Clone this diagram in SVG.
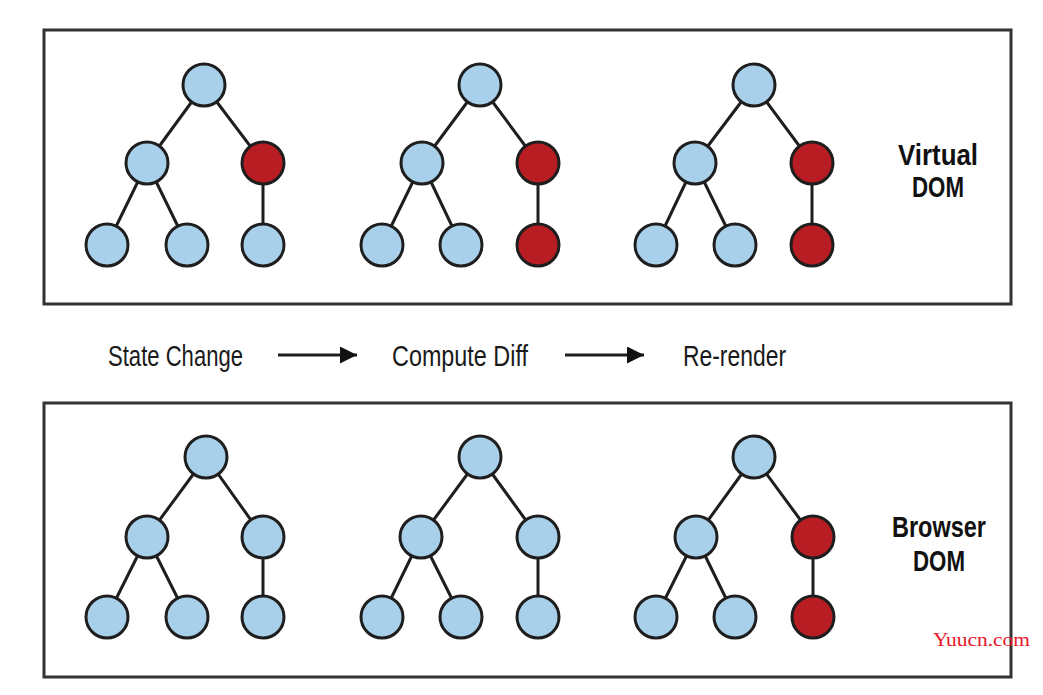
<svg xmlns="http://www.w3.org/2000/svg" width="1043" height="695" viewBox="0 0 1043 695">
<defs>
<style>
.panel{fill:#fff;stroke:#333;stroke-width:3}
.edge{stroke:#1e1e1e;stroke-width:3;fill:none}
.b{fill:#a9d0ea;stroke:#1e1e1e;stroke-width:3}
.r{fill:#b91d24;stroke:#1e1e1e;stroke-width:3}
.lbl{font-family:"Liberation Sans",Arial,sans-serif;font-size:29px;fill:#1a1a1a}
.ttl{font-family:"Liberation Sans",Arial,sans-serif;font-size:30px;font-weight:bold;fill:#111;text-anchor:middle}
.wm{font-family:"Liberation Serif","Times New Roman",serif;font-size:19px;fill:#e8192c}
</style>
<marker id="ah" viewBox="0 0 10 10" refX="10" refY="5" markerWidth="18" markerHeight="17" markerUnits="userSpaceOnUse" orient="auto">
<path d="M0,0 L10,5 L0,10 Z" fill="#111"/>
</marker>
</defs>
<rect width="1043" height="695" fill="#fff"/>
<g id="virtual-dom-panel">
<rect class="panel" x="44" y="30" width="967" height="274"/>
<text class="ttl" x="938" y="165" textLength="80" lengthAdjust="spacingAndGlyphs">Virtual</text>
<text class="ttl" x="938" y="197" textLength="52" lengthAdjust="spacingAndGlyphs">DOM</text>
</g>
<g id="browser-dom-panel">
<rect class="panel" x="44" y="403" width="967" height="274"/>
<text class="ttl" x="939" y="537" textLength="94" lengthAdjust="spacingAndGlyphs">Browser</text>
<text class="ttl" x="939" y="571" textLength="52" lengthAdjust="spacingAndGlyphs">DOM</text>
</g>
<g id="connectors">
<path class="edge" d="M204,85 L147,163 M204,85 L263,163 M147,163 L107,245 M147,163 L187,245 M263,163 L263,245"/>
<path class="edge" d="M480,85 L422,163 M480,85 L538,163 M422,163 L382,245 M422,163 L461,245 M538,163 L538,245"/>
<path class="edge" d="M754,85 L695,163 M754,85 L812,163 M695,163 L656,245 M695,163 L735,245 M812,163 L812,245"/>
<path class="edge" d="M206,457 L147,537 M206,457 L263,537 M147,537 L107,617 M147,537 L187,617 M263,537 L263,617"/>
<path class="edge" d="M480,457 L421,537 M480,457 L538,537 M421,537 L382,617 M421,537 L461,617 M538,537 L538,617"/>
<path class="edge" d="M754,457 L696,537 M754,457 L813,537 M696,537 L656,617 M696,537 L735,617 M813,537 L813,617"/>
<line class="edge" x1="278" y1="355" x2="357" y2="355" marker-end="url(#ah)"/>
<line class="edge" x1="565" y1="355" x2="644" y2="355" marker-end="url(#ah)"/>
</g>
<g id="vtree1">
<circle class="b" cx="204" cy="85" r="21"/>
<circle class="b" cx="147" cy="163" r="21"/>
<circle class="r" cx="263" cy="163" r="21"/>
<circle class="b" cx="107" cy="245" r="21"/>
<circle class="b" cx="187" cy="245" r="21"/>
<circle class="b" cx="263" cy="245" r="21"/>
</g>
<g id="vtree2">
<circle class="b" cx="480" cy="85" r="21"/>
<circle class="b" cx="422" cy="163" r="21"/>
<circle class="r" cx="538" cy="163" r="21"/>
<circle class="b" cx="382" cy="245" r="21"/>
<circle class="b" cx="461" cy="245" r="21"/>
<circle class="r" cx="538" cy="245" r="21"/>
</g>
<g id="vtree3">
<circle class="b" cx="754" cy="85" r="21"/>
<circle class="b" cx="695" cy="163" r="21"/>
<circle class="r" cx="812" cy="163" r="21"/>
<circle class="b" cx="656" cy="245" r="21"/>
<circle class="b" cx="735" cy="245" r="21"/>
<circle class="r" cx="812" cy="245" r="21"/>
</g>
<g id="btree1">
<circle class="b" cx="206" cy="457" r="21"/>
<circle class="b" cx="147" cy="537" r="21"/>
<circle class="b" cx="263" cy="537" r="21"/>
<circle class="b" cx="107" cy="617" r="21"/>
<circle class="b" cx="187" cy="617" r="21"/>
<circle class="b" cx="263" cy="617" r="21"/>
</g>
<g id="btree2">
<circle class="b" cx="480" cy="457" r="21"/>
<circle class="b" cx="421" cy="537" r="21"/>
<circle class="b" cx="538" cy="537" r="21"/>
<circle class="b" cx="382" cy="617" r="21"/>
<circle class="b" cx="461" cy="617" r="21"/>
<circle class="b" cx="538" cy="617" r="21"/>
</g>
<g id="btree3">
<circle class="b" cx="754" cy="457" r="21"/>
<circle class="b" cx="696" cy="537" r="21"/>
<circle class="r" cx="813" cy="537" r="21"/>
<circle class="b" cx="656" cy="617" r="21"/>
<circle class="b" cx="735" cy="617" r="21"/>
<circle class="r" cx="813" cy="617" r="21"/>
</g>
<g id="step-state-change"><text class="lbl" x="108" y="366" textLength="135" lengthAdjust="spacingAndGlyphs">State Change</text></g>
<g id="step-compute-diff"><text class="lbl" x="392" y="366" textLength="136" lengthAdjust="spacingAndGlyphs">Compute Diff</text></g>
<g id="step-re-render"><text class="lbl" x="683" y="366" textLength="103" lengthAdjust="spacingAndGlyphs">Re-render</text></g>
<text class="wm" x="933" y="646" textLength="97" lengthAdjust="spacingAndGlyphs">Yuucn.com</text>
</svg>
